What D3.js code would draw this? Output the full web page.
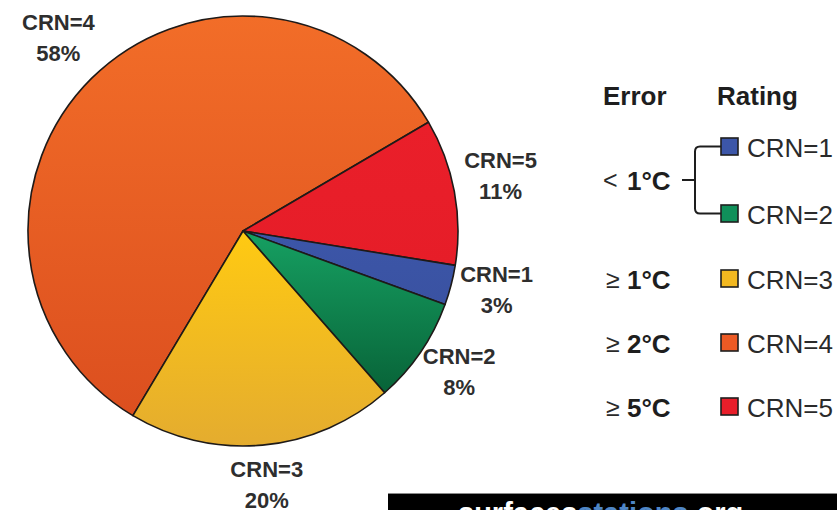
<!DOCTYPE html>
<html>
<head>
<meta charset="utf-8">
<script src="https://cdn.jsdelivr.net/npm/d3@7"></script>
<style>
  html, body { margin: 0; padding: 0; background: #fff; }
  svg { display: block; font-family: "Liberation Sans", Arial, Helvetica, sans-serif; }
</style>
</head>
<body>
<svg id="chart" width="837" height="510"></svg>
<script>
// ---- data ----
const categories = ["CRN=4", "CRN=5", "CRN=1", "CRN=2", "CRN=3"];
const percents   = [58, 11, 3, 8, 20];
const sliceTop    = ["#f26d28", "#ea1f2a", "#3c56a8", "#16a062", "#ffca12"];
const sliceBottom = ["#dc4f1f", "#e61d28", "#3a52a2", "#086338", "#e4ac2f"];

const legendRatings = ["CRN=1", "CRN=2", "CRN=3", "CRN=4", "CRN=5"];
const legendColors  = ["#3c56a8", "#10905a", "#f2b820", "#ec5a24", "#e81e2a"];
const errorSymbols  = ["<", "≥", "≥", "≥"];
const errorValues   = ["1°C", "1°C", "2°C", "5°C"];
const legendHeaders = ["Error", "Rating"];
const watermark = ["surfaces", "stations", ".org"];

// ---- layout ----
const svg = d3.select("#chart");
const cx = 243, cy = 231, R = 215;
const startA = 210.8 * Math.PI / 180;

const defs = svg.append("defs");
categories.forEach((c, i) => {
  const g = defs.append("linearGradient")
    .attr("id", "grad" + i).attr("x1", 0).attr("y1", 0).attr("x2", 0).attr("y2", 1);
  g.append("stop").attr("offset", "0%").attr("stop-color", sliceTop[i]);
  g.append("stop").attr("offset", "100%").attr("stop-color", sliceBottom[i]);
});

const data = categories.map((c, i) => ({ name: c, value: percents[i], i }));
const pie = d3.pie().sort(null).value(d => d.value)
  .startAngle(startA).endAngle(startA + 2 * Math.PI);
const arcs = pie(data);
const arc = d3.arc().innerRadius(0).outerRadius(R);
const labelArc = d3.arc().innerRadius(262).outerRadius(262);

const g = svg.append("g").attr("transform", `translate(${cx},${cy})`);
g.selectAll("path.slice").data(arcs).join("path")
  .attr("class", "slice")
  .attr("d", arc)
  .attr("fill", d => `url(#grad${d.data.i})`)
  .attr("stroke", "#1e1a18")
  .attr("stroke-width", 1.6)
  .attr("stroke-linejoin", "round");

const lab = g.selectAll("g.lab").data(arcs).join("g")
  .attr("class", "lab")
  .attr("transform", d => {
    const [x, y] = labelArc.centroid(d);
    return `translate(${x},${y - 7})`;
  });
lab.append("text")
  .attr("text-anchor", "middle").attr("y", -8)
  .attr("font-size", 22).attr("font-weight", "bold").attr("fill", "#2e2e2e")
  .text(d => d.data.name);
lab.append("text")
  .attr("text-anchor", "middle").attr("y", 23)
  .attr("font-size", 22).attr("font-weight", "bold").attr("fill", "#2e2e2e")
  .text(d => d.data.value + "%");

// ---- legend ----
const L = svg.append("g");
L.append("text").attr("x", 603).attr("y", 105)
  .attr("font-size", 26).attr("font-weight", "bold").attr("fill", "#1e1e1e")
  .text(legendHeaders[0]);
L.append("text").attr("x", 717).attr("y", 105)
  .attr("font-size", 26).attr("font-weight", "bold").attr("fill", "#1e1e1e")
  .text(legendHeaders[1]);

const rowY = [157, 224, 289, 353, 417];
const sqX = 721, sq = 17;
legendRatings.forEach((r, i) => {
  L.append("rect").attr("x", sqX).attr("y", rowY[i] - 19)
    .attr("width", sq).attr("height", sq)
    .attr("fill", legendColors[i]).attr("stroke", "#1e1e1e").attr("stroke-width", 1.6);
  L.append("text").attr("x", 747).attr("y", rowY[i])
    .attr("font-size", 26).attr("fill", "#2a2a2a").text(r);
});

// error labels: first spans CRN=1 & CRN=2 via bracket
const errY = [190, rowY[2], rowY[3], rowY[4]];
errorSymbols.forEach((s, i) => {
  L.append("text").attr("x", i === 0 ? 603 : 606).attr("y", errY[i] - 1)
    .attr("font-size", 25).attr("fill", "#2a2a2a").text(s);
  L.append("text").attr("x", 627).attr("y", errY[i])
    .attr("font-size", 26).attr("font-weight", "bold").attr("fill", "#1e1e1e").text(errorValues[i]);
});

const yTop = rowY[0] - 10.5, yBot = rowY[1] - 10.5;
L.append("path")
  .attr("d", `M ${sqX} ${yTop} H 700 Q 695 ${yTop} 695 ${yTop + 5} V ${yBot - 5} Q 695 ${yBot} 700 ${yBot} H ${sqX}`)
  .attr("fill", "none").attr("stroke", "#1e1e1e").attr("stroke-width", 2);
L.append("path")
  .attr("d", `M 682 ${(yTop + yBot) / 2} H 695`)
  .attr("fill", "none").attr("stroke", "#1e1e1e").attr("stroke-width", 2);

// ---- watermark box (cut off at bottom, as in the source image) ----
svg.append("rect").attr("x", 388).attr("y", 493).attr("width", 449).attr("height", 17).attr("fill", "#000");
svg.append("line").attr("x1", 388).attr("x2", 837).attr("y1", 493.5).attr("y2", 493.5)
  .attr("stroke", "#8a8a8a").attr("stroke-width", 1);
const wm = svg.append("text").attr("x", 458).attr("y", 523)
  .attr("font-size", 29).attr("font-weight", "bold");
wm.append("tspan").attr("fill", "#ffffff").text(watermark[0]);
wm.append("tspan").attr("fill", "#4f86c6").text(watermark[1]);
wm.append("tspan").attr("fill", "#ffffff").text(watermark[2]);
</script>
</body>
</html>
